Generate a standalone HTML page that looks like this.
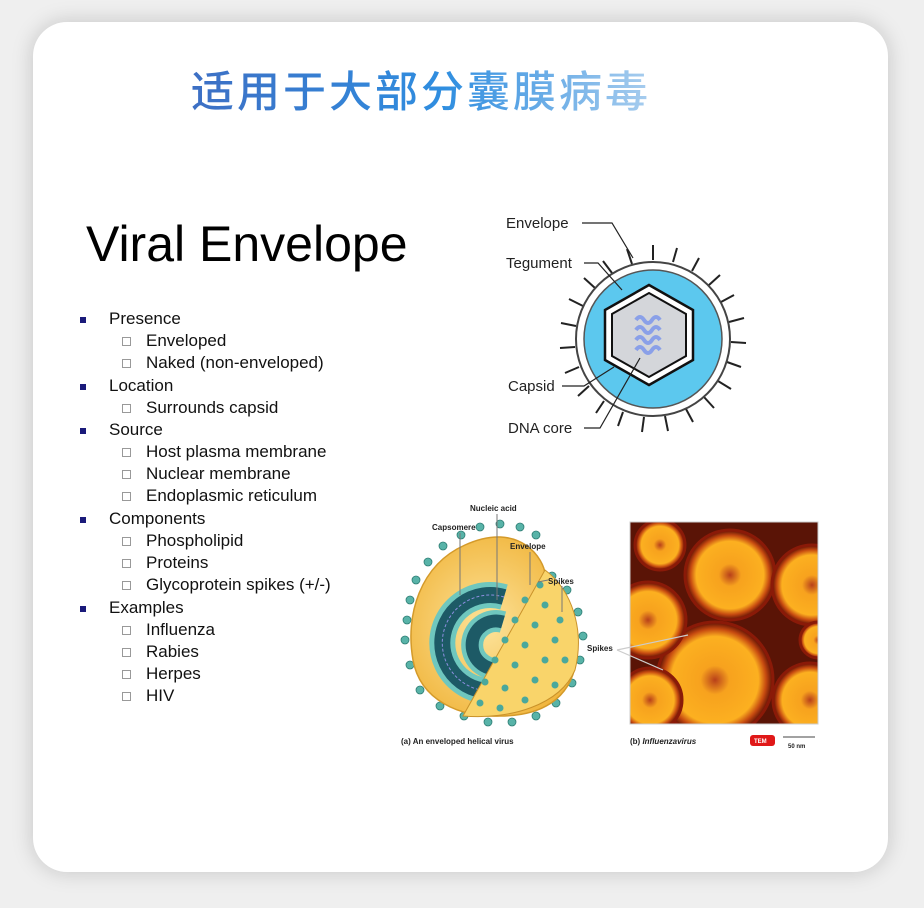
<!DOCTYPE html>
<html><head><meta charset="utf-8"><style>
html,body{margin:0;padding:0;width:924px;height:908px;background:#efefef;overflow:hidden;font-family:"Liberation Sans",Arial,sans-serif}
.card{position:absolute;left:33px;top:22px;width:855px;height:850px;background:#fff;border-radius:34px;box-shadow:0 0 22px rgba(0,0,0,0.18)}
.title{position:absolute;left:191px;top:58px;font:500 43px "Noto Sans CJK SC",sans-serif;letter-spacing:3px;background:linear-gradient(90deg,#3d6fc4,#2f8ee0 55%,#a8cdee);-webkit-background-clip:text;background-clip:text;color:transparent;white-space:nowrap}
.h{position:absolute;left:86px;top:215px;font-size:50px;color:#000}
.l{position:absolute;font-size:17px;color:#111;white-space:nowrap}
.b{position:absolute;width:6px;height:6px;background:#1a1a7a}
.s{position:absolute;width:7px;height:7px;border:1px solid #999}
</style></head><body>
<div class="card"></div>
<div class="title">适用于大部分囊膜病毒</div>
<div class="h">Viral Envelope</div>

<div class="b" style="left:80px;top:317px"></div><div class="l" style="left:109px;top:309px">Presence</div>
<div class="s" style="left:122px;top:337px"></div><div class="l" style="left:146px;top:331px">Enveloped</div>
<div class="s" style="left:122px;top:359px"></div><div class="l" style="left:146px;top:353px">Naked (non-enveloped)</div>
<div class="b" style="left:80px;top:384px"></div><div class="l" style="left:109px;top:376px">Location</div>
<div class="s" style="left:122px;top:404px"></div><div class="l" style="left:146px;top:398px">Surrounds capsid</div>
<div class="b" style="left:80px;top:428px"></div><div class="l" style="left:109px;top:420px">Source</div>
<div class="s" style="left:122px;top:448px"></div><div class="l" style="left:146px;top:442px">Host plasma membrane</div>
<div class="s" style="left:122px;top:470px"></div><div class="l" style="left:146px;top:464px">Nuclear membrane</div>
<div class="s" style="left:122px;top:492px"></div><div class="l" style="left:146px;top:486px">Endoplasmic reticulum</div>
<div class="b" style="left:80px;top:517px"></div><div class="l" style="left:109px;top:509px">Components</div>
<div class="s" style="left:122px;top:537px"></div><div class="l" style="left:146px;top:531px">Phospholipid</div>
<div class="s" style="left:122px;top:559px"></div><div class="l" style="left:146px;top:553px">Proteins</div>
<div class="s" style="left:122px;top:581px"></div><div class="l" style="left:146px;top:575px">Glycoprotein spikes (+/-)</div>
<div class="b" style="left:80px;top:606px"></div><div class="l" style="left:109px;top:598px">Examples</div>
<div class="s" style="left:122px;top:626px"></div><div class="l" style="left:146px;top:620px">Influenza</div>
<div class="s" style="left:122px;top:648px"></div><div class="l" style="left:146px;top:642px">Rabies</div>
<div class="s" style="left:122px;top:670px"></div><div class="l" style="left:146px;top:664px">Herpes</div>
<div class="s" style="left:122px;top:692px"></div><div class="l" style="left:146px;top:686px">HIV</div>

<svg width="924" height="908" style="position:absolute;left:0;top:0" font-family="Liberation Sans, sans-serif">
 <defs>
  <radialGradient id="yg" cx="0.45" cy="0.5" r="0.6"><stop offset="0" stop-color="#fde39a"/><stop offset="1" stop-color="#f0b43a"/></radialGradient>
  <radialGradient id="og" cx="0.5" cy="0.5" r="0.5"><stop offset="0" stop-color="#b8401a"/><stop offset="0.25" stop-color="#f7a21e"/><stop offset="0.75" stop-color="#fcb020"/><stop offset="0.88" stop-color="#c64a10"/><stop offset="1" stop-color="#5a0f05"/></radialGradient>
  <clipPath id="pc"><rect x="630" y="522" width="188" height="202"/></clipPath>
 </defs>
 <g stroke="#222" stroke-width="2">
  <line x1="653" y1="260" x2="653" y2="245"/><line x1="673" y1="262" x2="677" y2="248"/><line x1="692" y1="271" x2="699" y2="258"/><line x1="709" y1="285" x2="720" y2="275"/><line x1="721" y1="302" x2="734" y2="295"/><line x1="729" y1="322" x2="744" y2="318"/><line x1="731" y1="342" x2="746" y2="343"/><line x1="727" y1="362" x2="741" y2="367"/><line x1="718" y1="381" x2="731" y2="389"/><line x1="704" y1="397" x2="714" y2="408"/><line x1="686" y1="409" x2="693" y2="422"/><line x1="665" y1="416" x2="668" y2="431"/><line x1="644" y1="417" x2="642" y2="432"/><line x1="623" y1="412" x2="618" y2="426"/><line x1="604" y1="401" x2="596" y2="413"/><line x1="589" y1="386" x2="578" y2="396"/><line x1="579" y1="367" x2="565" y2="373"/><line x1="575" y1="347" x2="560" y2="348"/><line x1="576" y1="326" x2="561" y2="323"/><line x1="583" y1="306" x2="569" y2="299"/><line x1="595" y1="288" x2="584" y2="278"/><line x1="612" y1="273" x2="603" y2="261"/><line x1="632" y1="264" x2="627" y2="249"/>
 </g>
 <circle cx="653" cy="339" r="77" fill="#fff" stroke="#444" stroke-width="2"/>
 <circle cx="653" cy="339" r="69" fill="#5cc8ee" stroke="#555" stroke-width="1.5"/>
 <polygon points="649,285 693,310 693,360 649,385 605,360 605,310" fill="#fff" stroke="#111" stroke-width="2.5"/>
 <polygon points="649,293 686,314 686,356 649,377 612,356 612,314" fill="#d4d6da" stroke="#111" stroke-width="2"/>
 <g fill="none" stroke="#8aa0e8" stroke-width="4">
  <path d="M636,320 q4,-6 8,0 q4,6 8,0 q4,-6 8,0"/><path d="M636,330 q4,-6 8,0 q4,6 8,0 q4,-6 8,0"/><path d="M636,340 q4,-6 8,0 q4,6 8,0 q4,-6 8,0"/><path d="M636,350 q4,-6 8,0 q4,6 8,0 q4,-6 8,0"/>
 </g>
 <g fill="none" stroke="#222" stroke-width="1.2">
  <path d="M582,223 H612 L633,258"/><path d="M584,263 H598 L622,290"/><path d="M562,386 H584 L614,367"/><path d="M584,428 H600 L640,358"/>
 </g>
 <g font-size="15" fill="#222">
  <text x="506" y="228">Envelope</text><text x="506" y="268">Tegument</text><text x="508" y="391">Capsid</text><text x="508" y="433">DNA core</text>
 </g>

 <g fill="#58b3a8" stroke="#2e7d74" stroke-width="0.8">
  <circle cx="407" cy="620" r="4"/><circle cx="405" cy="640" r="4"/><circle cx="410" cy="600" r="4"/><circle cx="416" cy="580" r="4"/><circle cx="428" cy="562" r="4"/><circle cx="443" cy="546" r="4"/><circle cx="461" cy="535" r="4"/><circle cx="480" cy="527" r="4"/><circle cx="500" cy="524" r="4"/><circle cx="520" cy="527" r="4"/><circle cx="536" cy="535" r="4"/><circle cx="552" cy="576" r="4"/><circle cx="567" cy="590" r="4"/><circle cx="578" cy="612" r="4"/><circle cx="583" cy="636" r="4"/><circle cx="580" cy="660" r="4"/><circle cx="572" cy="683" r="4"/><circle cx="556" cy="703" r="4"/><circle cx="536" cy="716" r="4"/><circle cx="512" cy="722" r="4"/><circle cx="488" cy="722" r="4"/><circle cx="464" cy="716" r="4"/><circle cx="440" cy="706" r="4"/><circle cx="420" cy="690" r="4"/><circle cx="410" cy="665" r="4"/>
 </g>
 <path d="M465,545 C520,520 545,560 545,575 C575,595 580,640 576,662 C570,700 540,716 500,716 C460,718 420,700 413,660 C405,615 420,565 465,545 Z" fill="url(#yg)" stroke="#d49a2a" stroke-width="1.5"/>
 <path d="M504,597 A48,48 0 1 0 504,689" fill="none" stroke="#6fc7be" stroke-width="26"/>
 <path d="M504,597 A48,48 0 1 0 504,689" fill="none" stroke="#1d5a66" stroke-width="16"/>
 <path d="M503,622 A24,24 0 1 0 503,668" fill="none" stroke="#6fc7be" stroke-width="22"/>
 <path d="M503,622 A24,24 0 1 0 503,668" fill="none" stroke="#1d5a66" stroke-width="13"/>
 <path d="M504,597 A48,48 0 1 0 504,689" fill="none" stroke="#8c8fe0" stroke-width="1" stroke-dasharray="3 2"/>
 <path d="M545,570 L463,716 C510,720 560,705 575,670 C585,630 572,590 545,570 Z" fill="#f9d46a" stroke="#c9922a" stroke-width="1"/>
 <g fill="#4aa89c">
  <circle cx="525" cy="600" r="3.5"/><circle cx="545" cy="605" r="3.5"/><circle cx="560" cy="620" r="3.5"/><circle cx="515" cy="620" r="3.5"/><circle cx="535" cy="625" r="3.5"/><circle cx="555" cy="640" r="3.5"/><circle cx="505" cy="640" r="3.5"/><circle cx="525" cy="645" r="3.5"/><circle cx="545" cy="660" r="3.5"/><circle cx="565" cy="660" r="3.5"/><circle cx="495" cy="660" r="3.5"/><circle cx="515" cy="665" r="3.5"/><circle cx="535" cy="680" r="3.5"/><circle cx="555" cy="685" r="3.5"/><circle cx="485" cy="682" r="3.5"/><circle cx="505" cy="688" r="3.5"/><circle cx="525" cy="700" r="3.5"/><circle cx="480" cy="703" r="3.5"/><circle cx="500" cy="708" r="3.5"/><circle cx="540" cy="585" r="3.5"/>
 </g>
 <g stroke="#777" stroke-width="1" fill="none">
  <line x1="460" y1="533" x2="460" y2="595"/><line x1="497" y1="514" x2="497" y2="600"/><line x1="530" y1="552" x2="530" y2="585"/><path d="M538,582 L548,580"/><line x1="562" y1="586" x2="562" y2="612"/>
 </g>
 <g font-size="8" font-weight="bold" fill="#222">
  <text x="470" y="511">Nucleic acid</text><text x="432" y="530">Capsomere</text><text x="510" y="549">Envelope</text><text x="548" y="584">Spikes</text>
  <text x="401" y="744">(a) An enveloped helical virus</text>
  <text x="630" y="744">(b) <tspan font-style="italic">Influenzavirus</tspan></text>
  <text x="587" y="651">Spikes</text><text x="788" y="748" font-size="6">50 nm</text>
 </g>
 <rect x="630" y="522" width="188" height="202" fill="#5a1406"/>
 <g stroke="#8a1a08" stroke-width="3" clip-path="url(#pc)">
 <circle cx="730" cy="575" r="45" fill="url(#og)"/>
 <circle cx="715" cy="680" r="58" fill="url(#og)"/>
 <circle cx="812" cy="585" r="40" fill="url(#og)"/>
 <circle cx="648" cy="620" r="38" fill="url(#og)"/>
 <circle cx="650" cy="700" r="32" fill="url(#og)"/>
 <circle cx="810" cy="700" r="37" fill="url(#og)"/>
 <circle cx="660" cy="545" r="25" fill="url(#og)"/>
 <circle cx="818" cy="640" r="18" fill="url(#og)"/>
 </g>
 <rect x="630" y="522" width="188" height="202" fill="none" stroke="#ccc"/>
 <g stroke="#ccc" stroke-width="1.2"><line x1="617" y1="650" x2="688" y2="635"/><line x1="617" y1="650" x2="663" y2="670"/></g>
 <rect x="750" y="735" width="25" height="11" rx="3" fill="#e01818"/>
 <text x="754" y="743" font-size="6" fill="#fff" font-weight="bold">TEM</text>
 <line x1="783" y1="737" x2="815" y2="737" stroke="#444"/>
</svg>
</body></html>
